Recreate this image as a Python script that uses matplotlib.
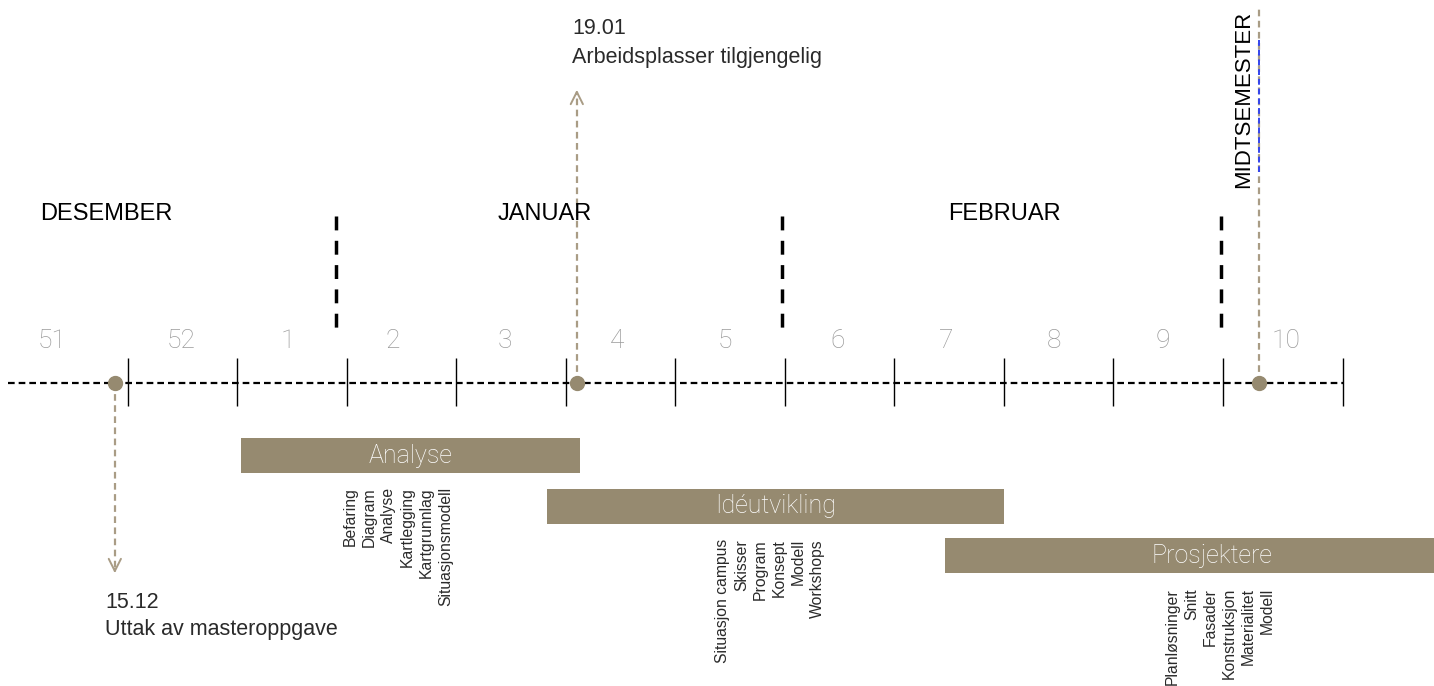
import matplotlib.pyplot as plt
import numpy as np

plt.rcParams["font.family"] = ["Liberation Sans", "DejaVu Sans"]

# weeks along the timeline (x unit = one week, 0 = start of week 51)
weeks = ["51", "52", "1", "2", "3", "4", "5", "6", "7", "8", "9", "10"]
week_label_x = [0.31, 1.49, 2.46, 3.42, 4.44, 5.47, 6.45, 7.48, 8.47, 9.46, 10.45, 11.58]
week_ticks = [1, 2, 3, 4, 5, 6, 7, 8, 9, 10, 11, 12.1]

months = ["DESEMBER", "JANUAR", "FEBRUAR"]
month_x = [0.80, 4.81, 9.01]
month_breaks = [2.9, 6.97, 10.98]

# events
ev_dates = ["15.12", "19.01"]
ev_text = ["Uttak av masteroppgave", "Arbeidsplasser tilgjengelig"]
ev_x = [0.88, 5.1]
mid_x = 11.33

# phases
phases = ["Analyse", "Idéutvikling", "Prosjektere"]
phase_start = [2.03, 4.83, 8.46]
phase_end = [5.13, 9.0, 13.35]
phase_items = [
    ["Befaring", "Diagram", "Analyse", "Kartlegging", "Kartgrunnlag", "Situasjonsmodell"],
    ["Situasjon campus", "Skisser", "Program", "Konsept", "Modell", "Workshops"],
    ["Planløsninger", "Snitt", "Fasader", "Konstruksjon", "Materialitet", "Modell"],
]
item_x0 = [3.03, 6.43, 10.54]

brown = "#968a70"
dash_brown = "#a99c85"
txt = "#2a2a2a"

fig = plt.figure(figsize=(14.34, 6.86), dpi=100)
ax = fig.add_axes([0, 0, 1, 1])
ax.set_xlim(-0.169, 12.93)
ax.set_ylim(686, 0)
ax.axis("off")

# main time axis
y0 = 383
ax.plot([-0.1, 12.1], [y0, y0], color="black", lw=1.6, ls=(0, (3, 1.8)), zorder=2)
ax.vlines(week_ticks, 358, 406, color="black", lw=1, zorder=2)
for lab, x in zip(weeks, week_label_x):
    ax.text(x, 341, lab, ha="center", va="center", fontsize=19, color="#9a9a9a",
            family=["Roboto", "DejaVu Sans"], fontweight="light")

# months
for m, x in zip(months, month_x):
    ax.text(x, 214, m, ha="center", va="center", fontsize=17, color="black")
ax.vlines(month_breaks, 216, 328, color="black", lw=2.5, ls=(0, (4, 3)), zorder=2)

# events
ax.plot([ev_x[0], ev_x[0]], [y0, 572], color=dash_brown, lw=1.6, ls=(0, (3, 2)), zorder=1)
ax.annotate("", xy=(ev_x[0], 576), xytext=(ev_x[0], 566),
            arrowprops=dict(arrowstyle="->", color=dash_brown, lw=1.4, mutation_scale=22))
ax.plot([ev_x[1], ev_x[1]], [y0, 92], color=dash_brown, lw=1.6, ls=(0, (3, 2)), zorder=1)
ax.annotate("", xy=(ev_x[1], 87), xytext=(ev_x[1], 97),
            arrowprops=dict(arrowstyle="->", color=dash_brown, lw=1.4, mutation_scale=22))
ax.text(ev_x[0] - 0.09, 603, ev_dates[0], ha="left", va="center", fontsize=15.5, color=txt)
ax.text(ev_x[0] - 0.09, 630, ev_text[0], ha="left", va="center", fontsize=15.5, color=txt)
ax.text(ev_x[1] - 0.04, 28, ev_dates[1], ha="left", va="center", fontsize=15.5, color=txt)
ax.text(ev_x[1] - 0.04, 57, ev_text[1], ha="left", va="center", fontsize=15.5, color=txt)

# midtsemester
ax.plot([mid_x, mid_x], [y0, 6], color=dash_brown, lw=1.6, ls=(0, (3, 2)), zorder=1)
ax.plot([mid_x, mid_x], [40, 172], color="#3344ee", lw=1.4, ls=(0, (3, 2)), zorder=1)
ax.text(mid_x - 0.14, 11, "MIDTSEMESTER", rotation=90, ha="center", va="top",
        fontsize=16, color="black")

ax.plot(ev_x + [mid_x], [y0] * 3, "o", color=brown, ms=10, zorder=3)

# phases
bar_y = [455.5, 506.5, 555.5]
item_top = [487, 539, 588]
for i, name in enumerate(phases):
    ax.barh(bar_y[i], phase_end[i] - phase_start[i], left=phase_start[i], height=35,
            color=brown, zorder=2)
    ax.text((phase_start[i] + phase_end[i]) / 2, bar_y[i], name, ha="center", va="center",
            fontsize=18, color="white", family=["Roboto", "DejaVu Sans"],
            fontweight="light", zorder=3)
    for j, it in enumerate(phase_items[i]):
        ax.text(item_x0[i] + j * 0.174, item_top[i], it, rotation=90, ha="center",
                va="top", fontsize=11.3, color=txt)

fig.savefig("out.png", dpi=100)
